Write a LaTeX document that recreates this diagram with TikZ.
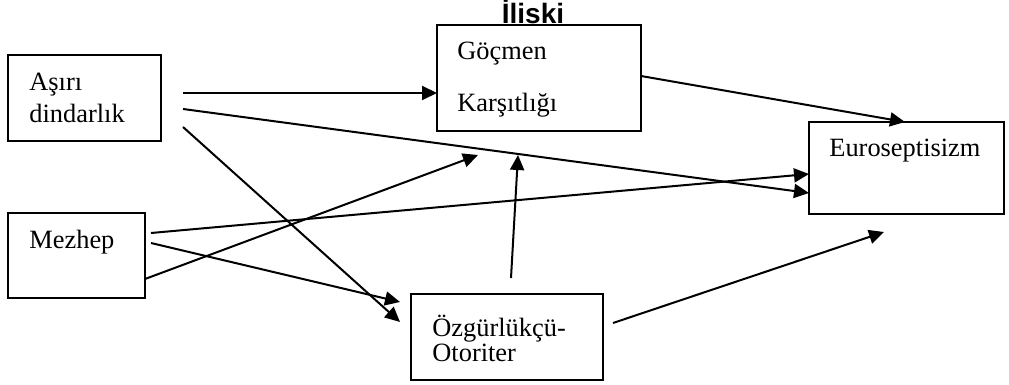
\documentclass[tikz,border=0pt]{standalone}
\usepackage{fontspec}
\setmainfont{Liberation Serif}
\newfontfamily\headfont{Liberation Sans}
\usetikzlibrary{arrows.meta}

\begin{document}
\begin{tikzpicture}[x=0.5pt,y=-0.5pt,
		box/.style={draw,shape=rectangle,line width=0.75pt,inner sep=0pt},
		lbl/.style={anchor=base west,inner sep=0pt,font=\fontsize{13.2}{15}\selectfont},
		link/.style={line width=1pt,-{Triangle[length=7.5pt,width=7pt]}}]
		\useasboundingbox (0,0) rectangle (1009,385);

		\path (84.5,98) node[box,minimum width=76.5pt,minimum height=43pt] (asiri) {}
		(539,78) node[box,minimum width=102pt,minimum height=53pt] (gocmen) {}
		(906.5,168) node[box,minimum width=97.5pt,minimum height=46pt] (euro) {}
		(76.5,255.5) node[box,minimum width=68.5pt,minimum height=42.5pt] (mezhep) {}
		(507,337) node[box,minimum width=96pt,minimum height=43pt] (ozgur) {};

		\path (29,91) node[lbl] (asiri1) {Aşırı}
		(29,123) node[lbl] (asiri2) {dindarlık}
		(457,60) node[lbl] (gocmen1) {Göçmen}
		(457,112) node[lbl] (gocmen2) {Karşıtlığı}
		(829,157) node[lbl] (euro1) {Euroseptisizm}
		(29,249) node[lbl] (mezhep1) {Mezhep}
		(432,337) node[lbl] (ozgur1) {Özgürlükçü-}
		(432,362) node[lbl] (ozgur2) {Otoriter}
		(533,24) node[anchor=base,inner sep=0pt,font=\headfont\bfseries\fontsize{14}{16}\selectfont] (baslik) {İliski};

		\path (183,93) coordinate (s1) (437,93) coordinate (t1)
		(183,109) coordinate (s2) (809,193) coordinate (t2)
		(183,127) coordinate (s3) (400,322) coordinate (t3)
		(151,233) coordinate (s4) (809,174) coordinate (t4)
		(151,243) coordinate (s5) (400,302) coordinate (t5)
		(145,279) coordinate (s6) (478,155) coordinate (t6)
		(511,278) coordinate (s7) (518,155) coordinate (t7)
		(613,323) coordinate (s8) (884,232) coordinate (t8)
		(641,76) coordinate (s9) (905,122) coordinate (t9);

		\draw[link] (s1) -- (t1);
		\draw[link] (s2) -- (t2);
		\draw[link] (s3) -- (t3);
		\draw[link] (s4) -- (t4);
		\draw[link] (s5) -- (t5);
		\draw[link] (s6) -- (t6);
		\draw[link] (s7) -- (t7);
		\draw[link] (s8) -- (t8);
		\draw[link] (s9) -- (t9);

	\end{tikzpicture}
\end{document}
